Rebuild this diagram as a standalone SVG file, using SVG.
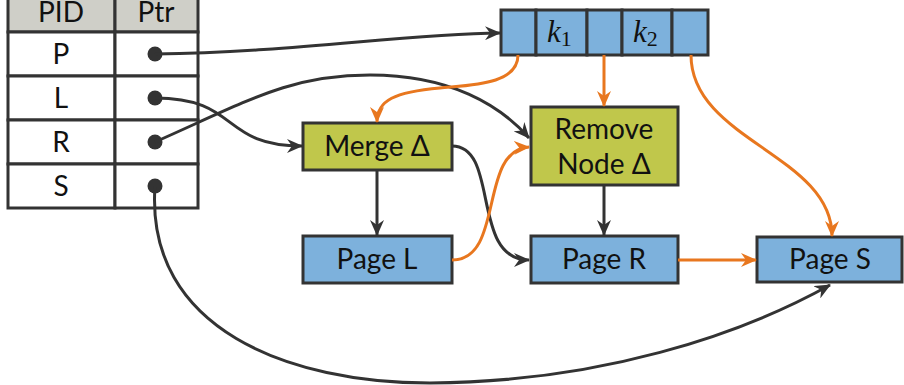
<svg xmlns="http://www.w3.org/2000/svg" width="904" height="385" viewBox="0 0 904 385">
  <defs>
    <style>
      .lbl { font-family: Lato, "Open Sans", sans-serif; font-size: 28px; fill: #111; text-anchor: middle; }
      .math { font-family: "Liberation Serif", serif; font-style: italic; font-size: 31px; fill: #111; }
      .sub { font-style: normal; font-size: 22px; }
      .cell { stroke: #333; stroke-width: 3; }
      .blue { fill: #7db1dc; }
      .olive { fill: #c0c74b; }
      .head { fill: #cfcfc8; }
      .white { fill: #fff; }
      .dark { fill: none; stroke: #333; stroke-width: 3; }
      .orange { fill: none; stroke: #e8771f; stroke-width: 3; }
      .dot { fill: #333; }
    </style>
    <marker id="arrD" viewBox="0 0 16 14" refX="15" refY="7" markerWidth="16" markerHeight="14" markerUnits="userSpaceOnUse" orient="auto">
      <path d="M0,0 L16,7 L0,14 L5,7 Z" fill="#333"/>
    </marker>
    <marker id="arrO" viewBox="0 0 16 14" refX="15" refY="7" markerWidth="16" markerHeight="14" markerUnits="userSpaceOnUse" orient="auto">
      <path d="M0,0 L16,7 L0,14 L5,7 Z" fill="#e8771f"/>
    </marker>
  </defs>

  <!-- mapping table -->
  <g id="table">
    <rect class="cell head" x="8" y="-14" width="107" height="46"/>
    <rect class="cell head" x="115" y="-14" width="83" height="46"/>
    <text class="lbl" x="61" y="22">PID</text>
    <text class="lbl" x="156" y="22">Ptr</text>
    <rect class="cell white" x="8" y="32" width="107" height="44"/>
    <rect class="cell white" x="115" y="32" width="83" height="44"/>
    <rect class="cell white" x="8" y="76" width="107" height="44"/>
    <rect class="cell white" x="115" y="76" width="83" height="44"/>
    <rect class="cell white" x="8" y="120" width="107" height="44"/>
    <rect class="cell white" x="115" y="120" width="83" height="44"/>
    <rect class="cell white" x="8" y="164" width="107" height="44"/>
    <rect class="cell white" x="115" y="164" width="83" height="44"/>
    <text class="lbl" x="61" y="64">P</text>
    <text class="lbl" x="61" y="108">L</text>
    <text class="lbl" x="61" y="152">R</text>
    <text class="lbl" x="61" y="196">S</text>
    <circle class="dot" cx="155" cy="54" r="7.5"/>
    <circle class="dot" cx="155" cy="98" r="7.5"/>
    <circle class="dot" cx="155" cy="142" r="7.5"/>
    <circle class="dot" cx="155" cy="186" r="7.5"/>
  </g>

  <!-- inner index node -->
  <g id="inner">
    <rect class="cell blue" x="501" y="10" width="35" height="45"/>
    <rect class="cell blue" x="536" y="10" width="51" height="45"/>
    <rect class="cell blue" x="587" y="10" width="35" height="45"/>
    <rect class="cell blue" x="622" y="10" width="50" height="45"/>
    <rect class="cell blue" x="672" y="10" width="36" height="45"/>
    <text class="math" x="547" y="42">k<tspan class="sub" dy="4">1</tspan></text>
    <text class="math" x="633" y="42">k<tspan class="sub" dy="4">2</tspan></text>
  </g>

  <g id="merge">
    <rect class="cell olive" x="303" y="123" width="149" height="47"/>
    <text class="lbl" x="377" y="156">Merge Δ</text>
  </g>

  <g id="remove">
    <rect class="cell olive" x="531" y="107" width="147" height="78"/>
    <text class="lbl" x="604" y="139">Remove</text>
    <text class="lbl" x="604" y="174">Node Δ</text>
  </g>

  <g id="pageL">
    <rect class="cell blue" x="303" y="236" width="149" height="47"/>
    <text class="lbl" x="377" y="269">Page L</text>
  </g>

  <g id="pageR">
    <rect class="cell blue" x="531" y="236" width="147" height="47"/>
    <text class="lbl" x="604" y="269">Page R</text>
  </g>

  <g id="pageS">
    <rect class="cell blue" x="757" y="237" width="145" height="45"/>
    <text class="lbl" x="830" y="269">Page S</text>
  </g>

  <!-- connectors -->
  <g id="connectors">
    <path class="dark" d="M155,54 C300,52 400,34 500,33" marker-end="url(#arrD)"/>
    <path class="dark" d="M155,98 C240,98 220,146 302,146" marker-end="url(#arrD)"/>
    <path class="dark" d="M155,142 C250,100 290,75 370,75 C450,75 500,105 529,138" marker-end="url(#arrD)"/>
    <path class="dark" d="M155,186 C145,330 290,383 430,383 C600,382 740,335 830,285" marker-end="url(#arrD)"/>
    <path class="dark" d="M377,170 L377,235" marker-end="url(#arrD)"/>
    <path class="dark" d="M604,185 L604,235" marker-end="url(#arrD)"/>
    <path class="dark" d="M452,146 C500,146 470,260 529,260" marker-end="url(#arrD)"/>
    <path class="orange" d="M452,260 C505,260 478,150 529,147" marker-end="url(#arrO)"/>
    <path class="orange" d="M518,55 C518,85 470,85 440,88 C395,92 377,100 377,122" marker-end="url(#arrO)"/>
    <path class="orange" d="M604,55 L604,106" marker-end="url(#arrO)"/>
    <path class="orange" d="M691,55 C691,140 832,155 832,236" marker-end="url(#arrO)"/>
    <path class="orange" d="M678,260 L756,260" marker-end="url(#arrO)"/>
  </g>
</svg>
